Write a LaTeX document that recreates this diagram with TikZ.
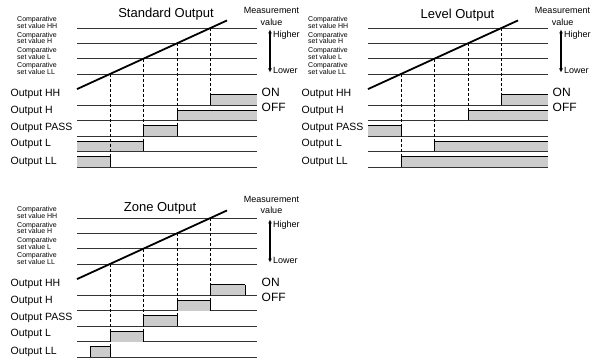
\documentclass[tikz,border=0pt]{standalone}
\usepackage{fontspec}
\setmainfont{Liberation Sans}
\usetikzlibrary{arrows.meta}

\tikzset{
  setline/.style={line width=0.6pt, draw=black!80},
  rowline/.style={line width=0.6pt, draw=black!80},
  ramp/.style={line width=1.8pt},
  guide/.style={line width=0.6pt, dash pattern=on 3pt off 2pt},
  boxfill/.style={fill=black!20},
  boxedge/.style={line width=0.7pt},
  updown/.style={{Latex[length=4pt,width=4pt]}-{Latex[length=4pt,width=4pt]}, line width=1.2pt},
  smalllbl/.style={font=\fontsize{7}{6.8}\selectfont, align=left, inner sep=0pt, anchor=south west},
  outlbl/.style={font=\fontsize{10.5}{12}\selectfont, inner sep=0pt, anchor=west},
  sidelbl/.style={font=\fontsize{9}{11.5}\selectfont, inner sep=0pt},
  onoff/.style={font=\fontsize{12}{14}\selectfont, inner sep=0pt, anchor=west},
  ttl/.style={font=\fontsize{13}{15}\selectfont, inner sep=0pt}
}

% #1 prefix, #2 title, #3 title position, #4 y of measurement label
\newcommand{\chartframe}[4]{%
  \node[ttl] (#1-title) at (#3) {#2};
  \foreach \yy/\nm/\tag in {28/HH/hh, 43.3/H/h, 58.7/L/l, 74/LL/ll} {
    \draw[setline] (77,\yy) -- (257,\yy);
    \node[smalllbl] (#1-cmp-\tag) at (17,\yy+0.8) {Comparative\\set value \nm};
  }
  \foreach \yy/\nm/\tag/\ly in {105/HH/hh/93.5, 120.5/H/h/111, 136/PASS/pass/127.5, 151.5/L/l/144, 167/LL/ll/161.5} {
    \draw[rowline] (77,\yy) -- (257,\yy);
    \coordinate (#1-top-\tag) at (0,\yy-10.5);
    \node[outlbl] (#1-out-\tag) at (10.5,\ly) {Output \nm};
  }
  % crossing points of the measured value
  \coordinate (#1-c1) at (110,74);
  \coordinate (#1-c2) at (143.5,58.7);
  \coordinate (#1-c3) at (177,43.3);
  \coordinate (#1-c4) at (210.5,28);
  \coordinate (#1-r0) at (77,89.1);
  \coordinate (#1-r1) at (227,20.45);
  \draw[ramp] (#1-r0) -- (#1-r1);
  \node[sidelbl, align=center] (#1-meas) at (271.5,#4) {Measurement\\value};
  \coordinate (#1-up) at (270,29.5);
  \coordinate (#1-dn) at (270,72.5);
  \draw[updown] (#1-dn) -- (#1-up);
  \node[sidelbl, anchor=west] (#1-hi) at (273,35.5) {Higher};
  \node[sidelbl, anchor=west] (#1-lo) at (273,70.5) {Lower};
  \node[onoff] (#1-on) at (261.5,92.5) {ON};
  \node[onoff] (#1-off) at (261.5,107.5) {OFF};
}

% #1 left x, #2 right x, #3 baseline y
\newcommand{\outbox}[3]{%
  \fill[boxfill] (#1,#3) rectangle (#2,#3-10.5);
  \draw[boxedge] (#1,#3-10.5) -- (#2,#3-10.5);
  \ifdim#1pt>77pt \draw[boxedge] (#1,#3) -- (#1,#3-10.5);\fi
  \ifdim#2pt<257pt \draw[boxedge] (#2,#3) -- (#2,#3-10.5);\fi
}

\begin{document}
\begin{tikzpicture}[x=1pt,y=-1pt]
\useasboundingbox (0,0) rectangle (599,363);

% standard output
\begin{scope}
  \chartframe{std}{Standard Output}{166,14}{16.5}
  \outbox{210.5}{257}{105}
  \outbox{177}{257}{120.5}
  \outbox{143.5}{177}{136}
  \outbox{77}{143.5}{151.5}
  \outbox{77}{110}{167}
  \foreach \c/\r in {c1/ll, c2/l, c3/pass, c4/hh}
    \draw[guide] (std-\c) -- (std-\c |- std-top-\r);
\end{scope}

% level output
\begin{scope}[shift={(291,0)}]
  \chartframe{lvl}{Level Output}{166.5,15}{16.5}
  \outbox{210.5}{257}{105}
  \outbox{177}{257}{120.5}
  \outbox{77}{110}{136}
  \outbox{143.5}{257}{151.5}
  \outbox{110}{257}{167}
  \foreach \c/\r in {c1/ll, c2/l, c3/h, c4/hh}
    \draw[guide] (lvl-\c) -- (lvl-\c |- lvl-top-\r);
\end{scope}

% zone output
\begin{scope}[shift={(0,190)}]
  \chartframe{zone}{Zone Output}{160,18}{15}
  \outbox{210.5}{245}{105}
  \outbox{177}{210.5}{120.5}
  \outbox{143.5}{177}{136}
  \outbox{110}{143.5}{151.5}
  \outbox{90}{110}{167}
  \foreach \c/\r in {c1/ll, c2/l, c3/pass, c4/h}
    \draw[guide] (zone-\c) -- (zone-\c |- zone-top-\r);
\end{scope}
\end{tikzpicture}
\end{document}
